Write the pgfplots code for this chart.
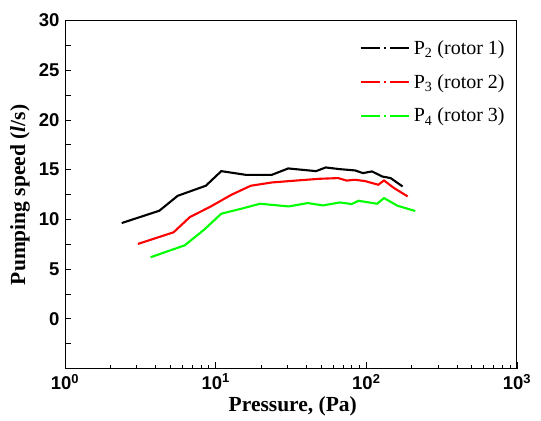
\documentclass[border=0pt]{standalone}
\usepackage{fontspec}
\setmainfont{Liberation Serif}
\newfontfamily\arialfont{Liberation Sans}
\usepackage{pgfplots}
\pgfplotsset{compat=1.18}
\begin{document}
\begin{tikzpicture}
\begin{axis}[
  at={(0,0)}, anchor=south west,
  scale only axis, width=452bp, height=348bp,
  xmode=log, xmin=1, xmax=1000,
  ymin=-5, ymax=30,
  xtick={1,10,100,1000},
  xticklabels={10\textsuperscript{0},10\textsuperscript{1},10\textsuperscript{2},10\textsuperscript{3}},
  ytick={-2.5,0,2.5,5,7.5,10,12.5,15,17.5,20,22.5,25,27.5,30},
  yticklabels={,0,,5,,10,,15,,20,,25,,30},
  xtick pos=bottom, ytick pos=left,
  tick align=inside,
  major tick length=6bp, minor tick length=4bp,
  tick style={line width=0.8bp, black},
  axis line style={line width=1bp},
  /pgf/number format/assume math mode=true,
  ticklabel style={font=\arialfont\bfseries\fontsize{18.5bp}{22bp}\selectfont},
  yticklabel style={xshift=-2bp},
  xticklabel style={yshift=-2bp},
  xlabel={\bfseries Pressure, (Pa)},
  ylabel={\bfseries Pumping speed (\textit{l}/s)},
  label style={font=\fontsize{21.5bp}{25bp}\selectfont},
  xlabel style={at={(axis description cs:0.504,-0.11)}, anchor=center},
  ylabel style={at={(axis description cs:-0.0996,0.499)}, anchor=center},
  legend style={at={(0.645,0.955)}, anchor=north west, draw=none, fill=none,
    font=\fontsize{20bp}{24bp}\selectfont, row sep=14.5bp},
  legend cell align=left,
  legend image code/.code={\draw[#1, dash pattern=on 19bp off 4bp on 2bp off 4bp] (0bp,0bp) -- (50bp,0bp);},
]
\addplot[black, line width=2.1bp] coordinates {
(2.38,9.63) (4.23,10.87) (5.6,12.37) (8.6,13.38) (10.9,14.85) (15.8,14.48)
(23.6,14.48) (30.3,15.12) (46.4,14.85) (53.7,15.22) (66.7,15.05) (84.3,14.92)
(94.9,14.65) (109,14.82) (127.6,14.31) (145,14.15) (174,13.31)
};
\addlegendentry{P\textsubscript{2} (rotor 1)}
\addplot[red, line width=2.1bp] coordinates {
(3.05,7.53) (5.26,8.70) (6.74,10.23) (9.3,11.3) (12.7,12.47) (17.1,13.38)
(23.6,13.71) (34,13.9) (48.9,14.08) (65,14.15) (74,13.9) (84,13.98)
(98,13.85) (120,13.48) (131,13.91) (153,13.14) (188,12.31)
};
\addlegendentry{P\textsubscript{3} (rotor 2)}
\addplot[color={rgb,255:red,0;green,255;blue,0}, line width=2.1bp] coordinates {
(3.7,6.19) (6.24,7.39) (8.38,8.96) (10.9,10.57) (14.8,11.07) (19.7,11.57)
(30.6,11.3) (40.8,11.64) (51.5,11.4) (66.7,11.7) (80,11.54) (88.7,11.87)
(118,11.57) (131,12.14) (161,11.37) (211,10.84)
};
\addlegendentry{P\textsubscript{4} (rotor 3)}
\end{axis}
\pgfresetboundingbox
\path[use as bounding box] (-65bp,-52.5bp) rectangle (476bp,368.5bp);
\end{tikzpicture}
\end{document}
